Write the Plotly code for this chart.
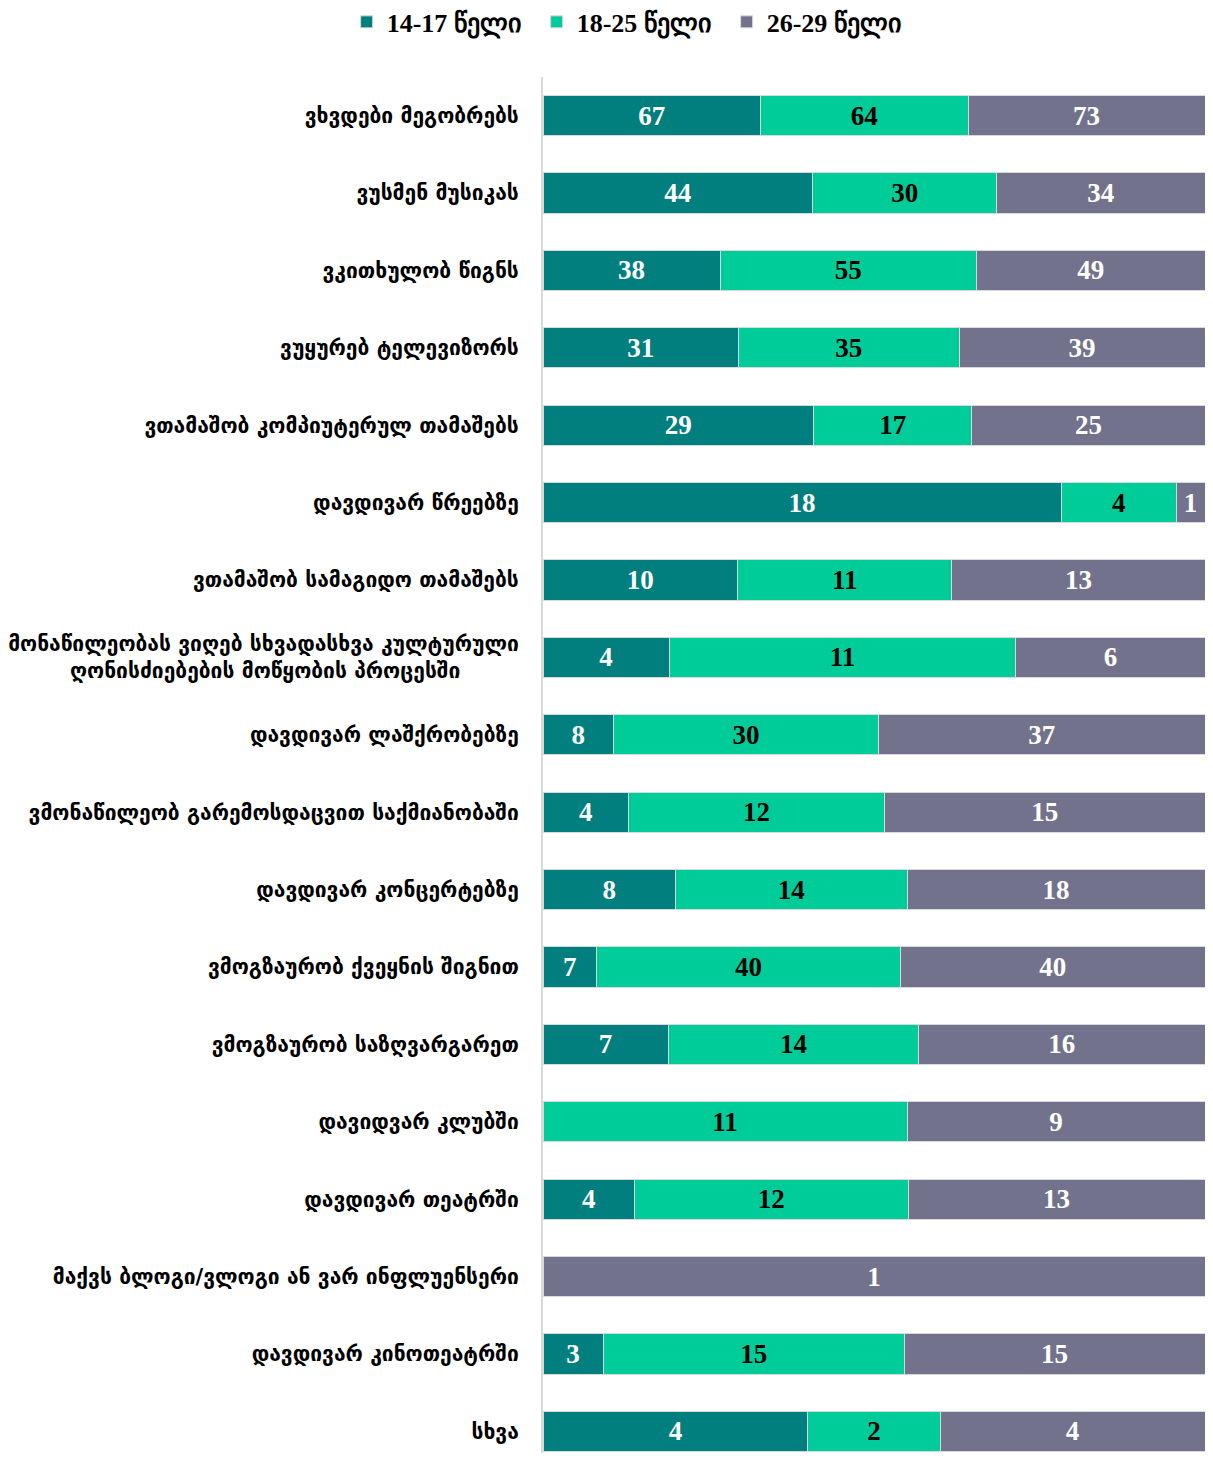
import plotly.graph_objects as go

categories = [
    "ვხვდები მეგობრებს",
    "ვუსმენ მუსიკას",
    "ვკითხულობ წიგნს",
    "ვუყურებ ტელევიზორს",
    "ვთამაშობ კომპიუტერულ თამაშებს",
    "დავდივარ წრეებზე",
    "ვთამაშობ სამაგიდო თამაშებს",
    "მონაწილეობას ვიღებ სხვადასხვა კულტურული<br>ღონისძიებების მოწყობის პროცესში" + "&nbsp;" * 8,
    "დავდივარ ლაშქრობებზე",
    "ვმონაწილეობ გარემოსდაცვით საქმიანობაში",
    "დავდივარ კონცერტებზე",
    "ვმოგზაურობ ქვეყნის შიგნით",
    "ვმოგზაურობ საზღვარგარეთ",
    "დავიდვარ კლუბში",
    "დავდივარ თეატრში",
    "მაქვს ბლოგი/ვლოგი ან ვარ ინფლუენსერი",
    "დავდივარ კინოთეატრში",
    "სხვა",
]

age_14_17 = [67, 44, 38, 31, 29, 18, 10, 4, 8, 4, 8, 7, 7, 0, 4, 0, 3, 4]
age_18_25 = [64, 30, 55, 35, 17, 4, 11, 11, 30, 12, 14, 40, 14, 11, 12, 0, 15, 2]
age_26_29 = [73, 34, 49, 39, 25, 1, 13, 6, 37, 15, 18, 40, 16, 9, 13, 1, 15, 4]

series = [
    ("14-17 წელი", age_14_17, "#017F7E", "white"),
    ("18-25 წელი", age_18_25, "#00CC99", "black"),
    ("26-29 წელი", age_26_29, "#72728C", "white"),
]

NUM_FONT = "Liberation Serif, serif"

fig = go.Figure()
for name, vals, color, tcolor in series:
    fig.add_trace(go.Bar(
        name=name,
        y=categories,
        x=vals,
        orientation="h",
        marker=dict(color=color, line=dict(color="#d6d9dc", width=1)),
        text=[str(v) if v else "" for v in vals],
        textposition="inside",
        insidetextanchor="middle",
        textangle=0,
        textfont=dict(family=NUM_FONT, size=27, color=tcolor, weight="bold"),
        width=0.52,
        hoverinfo="skip",
    ))

fig.update_layout(
    barmode="stack",
    barnorm="percent",
    width=1197,
    height=1445,
    margin=dict(l=535, r=0, t=69, b=0, autoexpand=False),
    plot_bgcolor="white",
    paper_bgcolor="white",
    showlegend=True,
    legend=dict(
        orientation="h",
        xref="container",
        x=0.521, xanchor="center",
        yref="paper",
        y=1.04, yanchor="middle",
        font=dict(family=NUM_FONT, size=26, color="black", weight="bold"),
        itemwidth=30,
        entrywidth=145,
        traceorder="normal",
    ),
    xaxis=dict(
        range=[0, 100],
        showgrid=False,
        zeroline=False,
        showticklabels=False,
        showline=False,
        fixedrange=True,
    ),
    yaxis=dict(
        type="category",
        range=[17.28, -0.5],
        showgrid=False,
        zeroline=False,
        showline=True,
        linecolor="#d9d9d9",
        linewidth=2,
        ticks="",
        ticklabelstandoff=18,
        tickfont=dict(family="DejaVu Sans", size=21, color="black", weight="bold"),
    ),
)

fig.write_html("out.html")
